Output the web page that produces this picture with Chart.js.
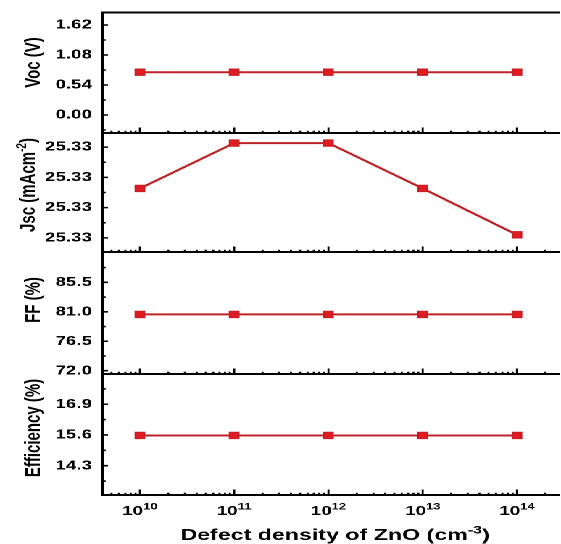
<!DOCTYPE html>
<html>
<head>
<meta charset="utf-8">
<script src="https://cdn.jsdelivr.net/npm/chart.js@4/dist/chart.umd.min.js"></script>
<style>
  html, body { margin: 0; padding: 0; background: #fff; }
  /* the figure is laid out narrow and widened horizontally */
  #fig { position: absolute; left: 0; top: 0; width: 387px; height: 544px;
         transform: scaleX(1.4496); transform-origin: 0 0; }
  #fig canvas { position: absolute; left: 0; top: 0; }
</style>
</head>
<body>
<div id="fig"></div>
<script>
// ZnO defect density sweep and the resulting cell parameters
const densities = [1e10, 1e11, 1e12, 1e13, 1e14];
const densityExponents = [10, 11, 12, 13, 14];

const vocValues = [0.77, 0.77, 0.77, 0.77, 0.77];
const jscValues = [25.33049, 25.33094, 25.33094, 25.33049, 25.33003];
const ffValues  = [80.6, 80.6, 80.6, 80.6, 80.6];
const effValues = [15.58, 15.58, 15.58, 15.58, 15.58];

const vocTicks = [0.00, 0.54, 1.08, 1.62];
const jscTicks = [25.3300, 25.3303, 25.3306, 25.3309];
const ffTicks  = [72.0, 76.5, 81.0, 85.5];
const effTicks = [14.3, 15.6, 16.9];

const W = 387, H = 544;
const FONT = '"Liberation Sans", Arial, sans-serif';
const LINE_COLOR = '#bb2326';
const POINT_FILL = '#e01b22';
const POINT_EDGE = '#c41e24';

const panels = [
  { values: vocValues, ticks: vocTicks, min: -0.324, max: 1.845, digits: 2,
    top: 12.5, bottom: 133, frameTop: true,
    title: [{ t: 'Voc (V)' }], titleX: 27.6, titleY: 62.5 },
  { values: jscValues, ticks: jscTicks, min: 25.32986, max: 25.33104, digits: 2,
    top: 133, bottom: 252,
    title: [{ t: 'Jsc (mAcm' }, { t: '-2', sup: true }, { t: ')' }], titleX: 24.1, titleY: 185 },
  { values: ffValues, ticks: ffTicks, min: 71.5, max: 90.13, digits: 1,
    top: 252, bottom: 374,
    title: [{ t: 'FF (%)' }], titleX: 27.6, titleY: 300 },
  { values: effValues, ticks: effTicks, min: 13.06, max: 18.18, digits: 1,
    top: 374, bottom: 495, xLabels: true,
    title: [{ t: 'Efficiency (%)' }], titleX: 27.6, titleY: 428 }
];

// text with optional superscript segments, centred on (x, y) baseline
function richText(ctx, segs, x, y, size, rotate) {
  ctx.save();
  ctx.translate(x, y);
  if (rotate) ctx.rotate(-Math.PI / 2);
  ctx.textAlign = 'left';
  ctx.textBaseline = 'alphabetic';
  ctx.fillStyle = '#000';
  const supSize = Math.round(size * 0.68);
  const widths = segs.map(s => {
    ctx.font = `bold ${s.sup ? supSize : size}px ${FONT}`;
    return ctx.measureText(s.t).width;
  });
  let cx = -widths.reduce((a, b) => a + b, 0) / 2;
  segs.forEach((s, i) => {
    ctx.font = `bold ${s.sup ? supSize : size}px ${FONT}`;
    ctx.fillText(s.t, cx, s.sup ? -size * 0.42 : 0);
    cx += widths[i];
  });
  ctx.restore();
}

function makeFrame(p) {
  return {
    id: 'panelFrame',
    afterDraw(chart) {
      const { ctx, chartArea: a } = chart;
      const xs = chart.scales.x, ys = chart.scales.y;
      ctx.save();
      ctx.strokeStyle = '#000';
      ctx.lineCap = 'butt';

      // axis lines
      ctx.lineWidth = 2;
      ctx.beginPath();
      ctx.moveTo(a.left, a.top - (p.frameTop ? 1 : 0));
      ctx.lineTo(a.left, a.bottom + 1);
      ctx.moveTo(a.left - 1, a.bottom);
      ctx.lineTo(a.right, a.bottom);
      if (p.frameTop) {
        ctx.moveTo(a.left - 1, a.top);
        ctx.lineTo(a.right, a.top);
      }
      ctx.stroke();

      // y ticks, pointing inward: majors plus one minor between them
      const step = p.ticks[1] - p.ticks[0];
      ctx.lineWidth = 1.6;
      ctx.beginPath();
      p.ticks.forEach(v => {
        const py = ys.getPixelForValue(v);
        ctx.moveTo(a.left, py);
        ctx.lineTo(a.left + 3.5, py);
      });
      for (let k = -3; k < p.ticks.length + 3; k++) {
        const v = p.ticks[0] + (k + 0.5) * step;
        if (v <= p.min || v >= p.max) continue;
        const py = ys.getPixelForValue(v);
        ctx.moveTo(a.left, py);
        ctx.lineTo(a.left + 1.9, py);
      }
      ctx.stroke();

      // x ticks on the log axis, pointing up into the panel
      ctx.lineWidth = 1.4;
      ctx.beginPath();
      const d0 = Math.floor(Math.log10(xs.min)), d1 = Math.ceil(Math.log10(xs.max));
      for (let d = d0; d <= d1; d++) {
        for (let m = 1; m <= 9; m++) {
          const v = m * Math.pow(10, d);
          if (v < xs.min || v > xs.max) continue;
          const px = xs.getPixelForValue(v);
          ctx.moveTo(px, a.bottom);
          ctx.lineTo(px, a.bottom - (m === 1 ? 5.5 : 2.2));
        }
      }
      ctx.stroke();
      ctx.restore();

      // panel title on the left
      richText(ctx, p.title, p.titleX, p.titleY, 15, true);

      // shared x axis labelling under the last panel
      if (p.xLabels) {
        densityExponents.forEach(e => {
          const px = xs.getPixelForValue(Math.pow(10, e));
          richText(ctx, [{ t: '10' }, { t: String(e), sup: true }], px, 515, 13, false);
        });
        richText(ctx, [{ t: 'Defect density of ZnO (cm' }, { t: '-3', sup: true }, { t: ')' }],
                 (a.left + a.right) / 2 + 2.5, 540, 16, false);
      }
    }
  };
}

const fig = document.getElementById('fig');
panels.forEach(p => {
  const canvas = document.createElement('canvas');
  canvas.width = W;
  canvas.height = H;
  fig.appendChild(canvas);

  new Chart(canvas, {
    type: 'line',
    data: {
      datasets: [{
        data: densities.map((d, i) => ({ x: d, y: p.values[i] })),
        borderColor: LINE_COLOR,
        borderWidth: 2,
        tension: 0,
        pointStyle: 'rect',
        pointRadius: 4.5,
        pointBackgroundColor: POINT_FILL,
        pointBorderColor: POINT_EDGE,
        pointBorderWidth: 1
      }]
    },
    options: {
      responsive: false,
      animation: false,
      devicePixelRatio: 2,
      events: [],
      layout: {
        autoPadding: false,
        padding: { top: p.top, bottom: H - p.bottom, left: 0, right: 0.7 }
      },
      plugins: { legend: { display: false }, tooltip: { enabled: false } },
      scales: {
        x: { type: 'logarithmic', min: 4.05e9, max: 2.86e14, display: false },
        y: {
          type: 'linear',
          min: p.min,
          max: p.max,
          grid: { display: false, drawTicks: false },
          border: { display: false },
          afterBuildTicks: s => { s.ticks = p.ticks.map(v => ({ value: v })); },
          afterFit: s => { s.width = 71; s.paddingTop = 0; s.paddingBottom = 0; },
          ticks: {
            autoSkip: false,
            padding: 7.5,
            color: '#000',
            font: { family: FONT, size: 13, weight: 'bold' },
            callback: v => Number(v).toFixed(p.digits)
          }
        }
      }
    },
    plugins: [makeFrame(p)]
  });
});
</script>
</body>
</html>
